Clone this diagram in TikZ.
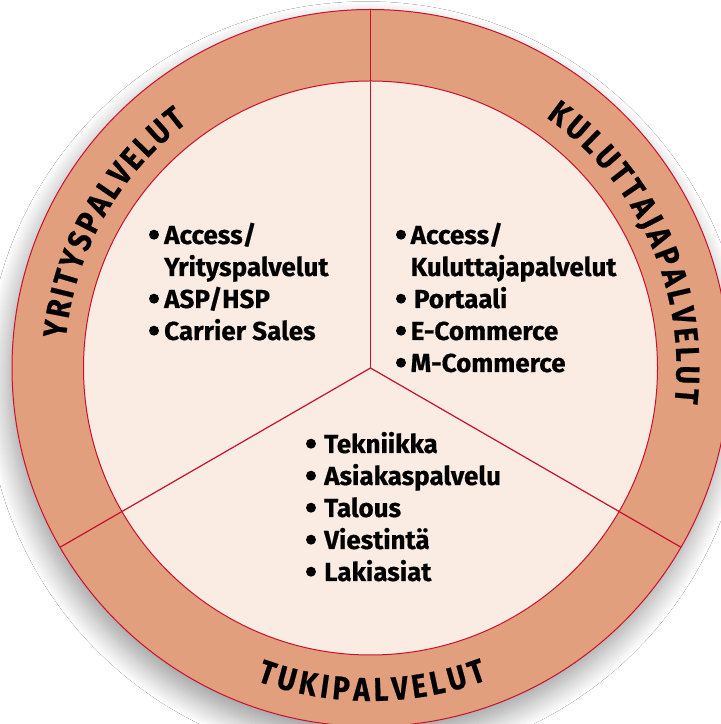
\documentclass[tikz,border=0pt]{standalone}
\usepackage{fontspec}
\setmainfont{Fira Sans}[BoldFeatures={FakeBold=0.6}]
\newfontfamily\lblfam{Fira Sans}[FakeStretch=0.86, BoldFeatures={FakeBold=0.6}]
\usetikzlibrary{decorations.text,shadows.blur}
\definecolor{ringfill}{RGB}{225,159,125}
\definecolor{innerfill}{RGB}{250,235,227}
\definecolor{edgered}{RGB}{200,16,46}
\newcommand\lblfont{\lblfam\fontsize{33bp}{33bp}\selectfont\bfseries}
\newcommand\itemfont{\fontsize{26bp}{32bp}\selectfont\bfseries}
\begin{document}
\begin{tikzpicture}[x=1bp,y=1bp,
  item/.style={font=\itemfont, inner sep=0pt, anchor=base west, text=black},
  bul/.style={fill=black},
  divline/.style={draw=edgered, line width=1.2bp},
  ringlabel/.style={decorate, decoration={text along path, text align={fit to path}}}
]
\useasboundingbox (0,0) rectangle (721,724);
\clip (0,0) rectangle (721,724);
\fill[white] (0,0) rectangle (721,724);
\coordinate (C) at (370.5,356);
% ring with shadow
\path[fill=ringfill, draw=edgered, line width=1bp,
  blur shadow={shadow xshift=-4bp, shadow yshift=-14bp, shadow blur radius=22bp,
    shadow blur steps=24, shadow opacity=40}]
  (C) circle[radius=358.5];
\path[fill=innerfill, draw=edgered, line width=1bp] (C) circle[radius=287];
\foreach \a in {90,-30,210} \draw[divline] (C) -- ++(\a:358.5);
% ring labels
\path[ringlabel, decoration={text={|\lblfont|YRITYSPALVELUT}}]
  (C) ++(174.5:306) arc[start angle=174.5, end angle=126.8, radius=306];
\path[ringlabel, decoration={text={|\lblfont|KULUTTAJAPALVELUT}}]
  (C) ++(55:306) arc[start angle=55, end angle=-6.5, radius=306];
\path[ringlabel, decoration={text={|\lblfont|TUKIPALVELUT}}]
  (C) ++(-110:333) arc[start angle=-110, end angle=-69.5, radius=333];
% left list
\node[item] (y1) at (164,480) {Access/};
\node[item] (y2) at (164,448) {Yrityspalvelut};
\node[item] (y3) at (164,416) {ASP/HSP};
\node[item] (y4) at (164,384) {Carrier Sales};
\foreach \n in {y1,y3,y4} \fill[bul] ([xshift=-10bp,yshift=9.3bp]\n.base west) circle[radius=5bp];
% right list
\node[item] (k1) at (410.5,480) {Access/};
\node[item] (k2) at (410.5,448) {Kuluttajapalvelut};
\node[item] (k3) at (413.8,416) {Portaali};
\node[item] (k4) at (410.5,384) {E-Commerce};
\node[item] (k5) at (410.5,352) {M-Commerce};
\foreach \n in {k1,k4,k5} \fill[bul] ([xshift=-9.5bp,yshift=9.3bp]\n.base west) circle[radius=5bp];
\fill[bul] ([xshift=-12.8bp,yshift=9.3bp]k3.base west) circle[radius=5bp];
% bottom list
\node[item] (t1) at (324,271) {Tekniikka};
\node[item] (t2) at (324,239) {Asiakaspalvelu};
\node[item] (t3) at (324,207) {Talous};
\node[item] (t4) at (324,175) {Viestintä};
\node[item] (t5) at (324,143) {Lakiasiat};
\foreach \n in {t1,t2,t3,t4,t5} \fill[bul] ([xshift=-13bp,yshift=9.3bp]\n.base west) circle[radius=5bp];
\end{tikzpicture}
\end{document}
